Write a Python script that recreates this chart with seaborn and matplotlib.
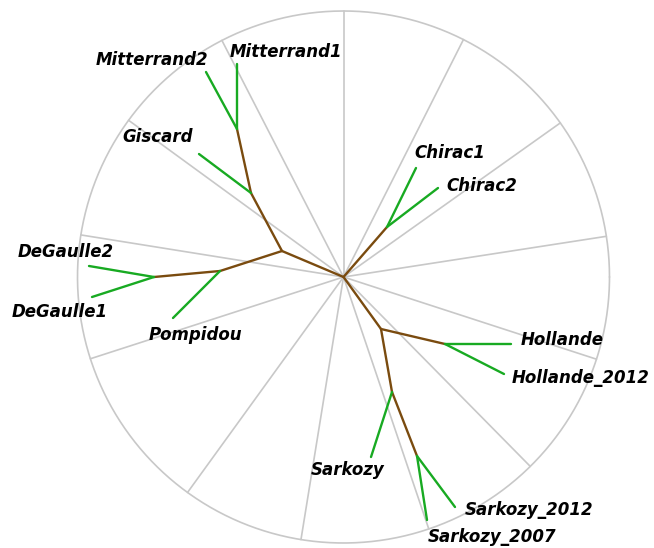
import numpy as np
import pandas as pd
import seaborn as sns
import matplotlib
matplotlib.use("Agg")
import matplotlib.pyplot as plt

# tree nodes (x, y relative to the root, circle radius = 266)
node_names = ["root", "A", "B", "C", "D", "E", "F", "G", "H", "I", "J",
              "DeGaulle2", "DeGaulle1", "Pompidou", "Giscard", "Mitterrand2", "Mitterrand1",
              "Chirac1", "Chirac2", "Hollande", "Hollande_2012", "Sarkozy",
              "Sarkozy_2012", "Sarkozy_2007"]
node_x = [0, -61.5, -123.5, -189.5, -92.5, -106.5, 43.5, 37.5, 101.5, 48.5, 73.5,
          -254.5, -251.5, -170.5, -144.5, -137.5, -106.5,
          72.5, 94.5, 167.5, 160.5, 27.5,
          111.5, 83.5]
node_y = [0, 26, 6, 0, 84, 148, 50, -52, -67, -115, -179,
          11, -20, -41, 123, 205, 213,
          109, 89, -67, -97, -180,
          -230, -243]

# edges parent -> child
edge_from = ["root", "A", "B", "C", "C", "B", "A", "D", "D", "E", "E",
             "root", "F", "F",
             "root", "G", "H", "H", "G", "I", "I", "J", "J"]
edge_to = ["A", "B", "C", "DeGaulle2", "DeGaulle1", "Pompidou", "D", "Giscard", "E",
           "Mitterrand2", "Mitterrand1",
           "F", "Chirac1", "Chirac2",
           "G", "H", "Hollande", "Hollande_2012", "I", "Sarkozy", "J",
           "Sarkozy_2012", "Sarkozy_2007"]

leaves = ["DeGaulle2", "DeGaulle1", "Pompidou", "Giscard", "Mitterrand2", "Mitterrand1",
          "Chirac1", "Chirac2", "Hollande", "Hollande_2012", "Sarkozy",
          "Sarkozy_2012", "Sarkozy_2007"]

# background spokes (degrees) and circle radius
spoke_angles = [90, 63.2, 35.4, 8.8, -18.0, -45.4, -71.3, -99.2, -125.9, -162.1,
                170.9, 143.9, 117.2]
radius = 266

# label placement relative to leaf tip (style)
label_offset = {
    "Mitterrand1": (49, 12), "Mitterrand2": (-54.5, 12), "Giscard": (-41, 17),
    "Chirac1": (34, 15), "Chirac2": (43.5, 2), "DeGaulle2": (-23, 14),
    "DeGaulle1": (-32, -15), "Pompidou": (22, -17), "Hollande": (51, 4),
    "Hollande_2012": (77, -4), "Sarkozy": (-23.5, -13), "Sarkozy_2012": (74, -3),
    "Sarkozy_2007": (65.5, -17),
}

pos = {n: (x, y) for n, x, y in zip(node_names, node_x, node_y)}

# segments table for seaborn
rows = []
for i, (a, b) in enumerate(zip(edge_from, edge_to)):
    kind = "leaf" if b in leaves else "inner"
    rows.append({"seg": i, "x": pos[a][0], "y": pos[a][1], "kind": kind})
    rows.append({"seg": i, "x": pos[b][0], "y": pos[b][1], "kind": kind})
edges = pd.DataFrame(rows)

spoke_rows = []
for i, ang in enumerate(spoke_angles):
    t = np.deg2rad(ang)
    spoke_rows.append({"seg": i, "x": 0, "y": 0})
    spoke_rows.append({"seg": i, "x": radius * np.cos(t), "y": radius * np.sin(t)})
spokes = pd.DataFrame(spoke_rows)

theta = np.linspace(0, 2 * np.pi, 400)
circle = pd.DataFrame({"x": radius * np.cos(theta), "y": radius * np.sin(theta),
                       "seg": 0})

sns.set_style("white")
fig = plt.figure(figsize=(6.54, 5.48), dpi=100)
ax = fig.add_axes([0, 0, 1, 1])

grey = "#c8c8c8"
sns.lineplot(data=spokes, x="x", y="y", units="seg", estimator=None, sort=False,
             color=grey, lw=1.2, ax=ax)
sns.lineplot(data=circle, x="x", y="y", units="seg", estimator=None, sort=False,
             color=grey, lw=1.2, ax=ax)
sns.lineplot(data=edges, x="x", y="y", units="seg", estimator=None, sort=False,
             hue="kind", palette={"inner": "#7a4b0f", "leaf": "#18aa22"},
             lw=1.7, legend=False, ax=ax)

for name in leaves:
    x, y = pos[name]
    dx, dy = label_offset[name]
    ax.text(x + dx, y + dy, name, ha="center", va="center", fontsize=12,
            fontweight="bold", fontstyle="italic", family="DejaVu Sans", color="black")

ax.set_xlim(-343.5, 310.5)
ax.set_ylim(-271, 277)
ax.set_aspect("equal")
ax.axis("off")
fig.savefig("out.png", dpi=100, facecolor="white")
